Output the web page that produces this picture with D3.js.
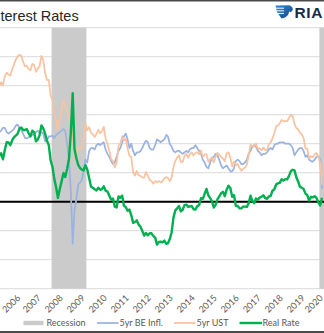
<!DOCTYPE html>
<html>
<head>
<meta charset="utf-8">
<script src="https://cdn.jsdelivr.net/npm/d3@7"></script>
<style>
  html, body { margin: 0; padding: 0; background: #fff; }
  svg { display: block; }
</style>
</head>
<body>
<svg id="chart" width="324" height="333"></svg>
<script>
// monthly averages, first value is June 2005
const firstMonth = [2005, 5];

const ust5 = [
  3.77, 3.98, 4.12, 4.01, 4.33, 4.45, 4.39,
  4.35, 4.57, 4.72, 4.90, 5.00, 5.07, 5.04, 4.82, 4.67, 4.69, 4.58, 4.53,
  4.75, 4.71, 4.48, 4.59, 4.67, 5.03, 4.88, 4.43, 4.20, 4.20, 3.67, 3.49,
  2.98, 2.78, 2.48, 2.84, 3.15, 3.49, 3.30, 3.14, 2.88, 2.73, 2.29, 1.52,
  1.60, 1.87, 1.82, 1.86, 2.13, 2.71, 2.46, 2.57, 2.37, 2.33, 2.23, 2.34,
  2.48, 2.36, 2.43, 2.58, 2.18, 2.00, 1.76, 1.47, 1.41, 1.18, 1.35, 1.93,
  1.99, 2.26, 2.11, 2.17, 1.84, 1.58, 1.54, 1.02, 0.90, 1.06, 0.91, 0.89,
  0.84, 0.83, 1.02, 0.89, 0.76, 0.71, 0.62, 0.71, 0.67, 0.71, 0.67, 0.70,
  0.81, 0.85, 0.82, 0.71, 0.84, 1.20, 1.40, 1.52, 1.60, 1.37, 1.37, 1.58,
  1.65, 1.52, 1.64, 1.70, 1.59, 1.68, 1.70, 1.63, 1.77, 1.55, 1.62, 1.64,
  1.37, 1.47, 1.52, 1.35, 1.54, 1.68, 1.63, 1.54, 1.49, 1.39, 1.67, 1.70,
  1.52, 1.22, 1.38, 1.26, 1.30, 1.17, 1.07, 1.13, 1.18, 1.27, 1.60, 1.96,
  1.92, 1.90, 2.01, 1.82, 1.84, 1.77, 1.87, 1.78, 1.80, 1.98, 2.05, 2.18,
  2.38, 2.60, 2.63, 2.70, 2.82, 2.78, 2.78, 2.77, 2.89, 3.00, 2.95, 2.68,
  2.54, 2.49, 2.37, 2.33, 2.19, 1.83, 1.83, 1.49, 1.57, 1.53, 1.64, 1.68,
  1.56, 1.32, 0.59
];

const be5 = [
  2.30, 2.40, 2.45, 2.55, 2.55, 2.40, 2.35,
  2.40, 2.45, 2.50, 2.62, 2.66, 2.55, 2.48, 2.35, 2.20, 2.18, 2.22, 2.28,
  2.30, 2.32, 2.40, 2.45, 2.38, 2.40, 2.35, 2.08, 2.10, 2.25, 2.25, 2.28,
  2.20, 2.30, 2.35, 2.40, 2.45, 2.50, 2.45, 2.00, 1.40, 0.35, -1.45, -0.30,
  0.10, 0.60, 0.65, 0.75, 1.05, 1.45, 1.35, 1.75, 1.85, 1.85, 1.80, 1.95,
  2.00, 1.95, 2.00, 2.05, 1.80, 1.65, 1.55, 1.40, 1.30, 1.35, 1.55, 1.75,
  1.85, 2.05, 2.25, 2.35, 2.15, 1.85, 2.00, 1.75, 1.60, 1.70, 1.70, 1.75,
  1.85, 2.00, 2.10, 2.05, 1.85, 1.80, 1.80, 1.95, 2.15, 2.10, 2.05, 2.10,
  2.15, 2.30, 2.25, 2.00, 1.90, 1.75, 1.70, 1.75, 1.75, 1.70, 1.65, 1.70,
  1.75, 1.70, 1.80, 1.85, 1.85, 1.95, 1.85, 1.75, 1.65, 1.45, 1.35, 1.20,
  1.15, 1.35, 1.50, 1.55, 1.65, 1.60, 1.45, 1.25, 1.15, 1.20, 1.25, 1.15,
  1.05, 1.05, 1.15, 1.40, 1.45, 1.40, 1.30, 1.30, 1.35, 1.45, 1.65, 1.75,
  1.90, 1.95, 1.90, 1.75, 1.70, 1.60, 1.65, 1.65, 1.70, 1.80, 1.85, 1.80,
  1.95, 2.00, 2.00, 2.05, 2.05, 2.05, 2.00, 2.00, 2.00, 1.95, 1.85, 1.60,
  1.70, 1.80, 1.85, 1.85, 1.75, 1.55, 1.60, 1.45, 1.40, 1.38, 1.45, 1.55,
  1.58, 1.45, 0.45
];

const real5 = [
  1.47, 1.58, 1.67, 1.46, 1.78, 2.05, 2.04,
  1.95, 2.12, 2.22, 2.28, 2.34, 2.52, 2.56, 2.47, 2.47, 2.51, 2.36, 2.25,
  2.45, 2.39, 2.08, 2.14, 2.29, 2.63, 2.53, 2.35, 2.10, 1.95, 1.42, 1.21,
  0.78, 0.48, 0.13, 0.44, 0.70, 0.99, 0.85, 1.14, 1.48, 2.38, 3.74, 1.82,
  1.50, 1.27, 1.17, 1.11, 1.08, 1.26, 1.11, 0.82, 0.52, 0.48, 0.43, 0.39,
  0.48, 0.41, 0.43, 0.53, 0.38, 0.35, 0.21, 0.07, 0.11, -0.17, -0.20, 0.18,
  0.14, 0.21, -0.14, -0.18, -0.31, -0.27, -0.46, -0.73, -0.70, -0.64, -0.79, -0.86,
  -1.01, -1.17, -1.08, -1.16, -1.09, -1.09, -1.18, -1.24, -1.48, -1.39, -1.38, -1.40,
  -1.34, -1.45, -1.43, -1.29, -1.06, -0.55, -0.30, -0.23, -0.15, -0.33, -0.28, -0.12,
  -0.10, -0.18, -0.16, -0.15, -0.26, -0.27, -0.15, -0.12, 0.12, 0.10, 0.27, 0.44,
  0.22, 0.12, 0.02, -0.20, -0.11, 0.08, 0.18, 0.29, 0.34, 0.19, 0.42, 0.55,
  0.47, 0.17, 0.23, -0.14, -0.15, -0.23, -0.23, -0.17, -0.17, -0.18, -0.05, 0.21,
  0.02, -0.05, 0.11, 0.07, 0.14, 0.17, 0.22, 0.13, 0.10, 0.18, 0.20, 0.38,
  0.43, 0.60, 0.63, 0.65, 0.77, 0.73, 0.78, 0.77, 0.89, 1.05, 1.10, 1.08,
  0.84, 0.69, 0.52, 0.48, 0.44, 0.28, 0.23, 0.04, 0.17, 0.15, 0.19, 0.13,
  -0.02, -0.13, 0.14
];

const recessions = [
  ["2007-12-01", "2009-07-01"],
  ["2020-02-01", "2020-05-01"]
];

const yearTicks = [2006, 2007, 2008, 2009, 2010, 2011, 2012, 2013,
                   2014, 2015, 2016, 2017, 2018, 2019, 2020];
const yTicks = [-3, -2, -1, 0, 1, 2, 3, 4, 5, 6];

const seriesNames = ["5yr BE Infl.", "5yr UST", "Real Rate"];
const seriesColors = ["#9AB3E0", "#F7C3A0", "#00B050"];
const seriesWidths = [1.75, 1.75, 2.4];

const WIDTH = 324;
const HEIGHT = 333;
const labelFont = "Lato, 'Liberation Sans', Arial, sans-serif";

const svg = d3.select("#chart");

svg.append("rect")
  .attr("width", WIDTH).attr("height", HEIGHT)
  .attr("fill", "#fff");

const x = d3.scaleTime()
  .domain([new Date(2006, 0, 1), new Date(2020, 0, 1)])
  .range([9.5, 317.5]);

const y = d3.scaleLinear()
  .domain([-3, 6])
  .range([288.7, 27.7]);

const monthDate = (i) => new Date(firstMonth[0], firstMonth[1] + i, 15);

// gridlines
svg.append("g")
  .selectAll("line")
  .data(yTicks)
  .enter()
  .append("line")
  .attr("x1", 0).attr("x2", WIDTH)
  .attr("y1", (d) => y(d)).attr("y2", (d) => y(d))
  .attr("stroke", "#DADADA")
  .attr("stroke-width", 1);

// recession shading
svg.append("g")
  .selectAll("rect")
  .data(recessions)
  .enter()
  .append("rect")
  .attr("x", (d) => x(new Date(d[0])))
  .attr("width", (d) => x(new Date(d[1])) - x(new Date(d[0])))
  .attr("y", y(6))
  .attr("height", y(-3) - y(6))
  .attr("fill", "#CBCBCB");

// zero line
svg.append("line")
  .attr("x1", 0).attr("x2", WIDTH)
  .attr("y1", y(0)).attr("y2", y(0))
  .attr("stroke", "#000")
  .attr("stroke-width", 2);

const line = d3.line()
  .x((d, i) => x(monthDate(i)))
  .y((d) => y(d));

[be5, ust5, real5].forEach((values, k) => {
  svg.append("path")
    .datum(values)
    .attr("d", line)
    .attr("fill", "none")
    .attr("stroke", seriesColors[k])
    .attr("stroke-width", seriesWidths[k])
    .attr("stroke-linejoin", "round");
});

// year labels, rotated; the outer two are nudged so they stay inside
const labelX = (d) => Math.max(11, Math.min(313.5, x(new Date(d, 0, 1))));

svg.append("g")
  .selectAll("text")
  .data(yearTicks)
  .enter()
  .append("text")
  .attr("transform", (d) => `translate(${labelX(d)},303.5) rotate(-45)`)
  .attr("text-anchor", "middle")
  .attr("dominant-baseline", "central")
  .attr("font-family", labelFont)
  .attr("font-size", 9)
  .attr("fill", "#595959")
  .text((d) => d);

// legend
const legend = svg.append("g")
  .attr("font-family", labelFont)
  .attr("font-size", 9)
  .attr("fill", "#595959");

legend.append("rect")
  .attr("x", 23.5).attr("y", 320.8)
  .attr("width", 20).attr("height", 4.4)
  .attr("fill", "#CBCBCB");
legend.append("text")
  .attr("x", 46.5).attr("y", 326.2)
  .text("Recession");

const legendItems = [
  { x1: 97, x2: 118.5, tx: 119.5 },
  { x1: 174, x2: 195.5, tx: 196.5 },
  { x1: 239.5, x2: 262, tx: 262.5 }
];

legendItems.forEach((it, k) => {
  legend.append("line")
    .attr("x1", it.x1).attr("x2", it.x2)
    .attr("y1", 323).attr("y2", 323)
    .attr("stroke", seriesColors[k])
    .attr("stroke-width", seriesWidths[k]);
  legend.append("text")
    .attr("x", it.tx).attr("y", 326.2)
    .text(seriesNames[k]);
});

// title
svg.append("text")
  .attr("x", 0.5).attr("y", 21)
  .attr("font-family", "'Liberation Sans', Arial, sans-serif")
  .attr("font-size", 14.5)
  .attr("fill", "#262626")
  .text("terest Rates");

// logo mark
const defs = svg.append("defs");
const grad = defs.append("linearGradient")
  .attr("id", "logoGrad")
  .attr("x1", 0).attr("y1", 0).attr("x2", 1).attr("y2", 1);
grad.append("stop").attr("offset", "0%").attr("stop-color", "#2E8BDB");
grad.append("stop").attr("offset", "100%").attr("stop-color", "#13457F");

svg.append("path")
  .attr("d", "M275.5,5.5 L289.5,5.2 Q293.2,6.8 292.8,10 L290.8,12.2 L289.2,11.6 L288.4,14.2 Q286.5,17.6 281.5,18.6 L279.2,15.2 L276.8,11.8 Z")
  .attr("fill", "url(#logoGrad)");

svg.append("g")
  .selectAll("line")
  .data([8.2, 10.8, 13.4])
  .enter()
  .append("line")
  .attr("x1", 275).attr("x2", 284)
  .attr("y1", (d) => d).attr("y2", (d) => d)
  .attr("stroke", "#fff")
  .attr("stroke-width", 1);

svg.append("text")
  .attr("x", 294.5).attr("y", 18.3)
  .attr("font-family", "'Liberation Sans', Arial, sans-serif")
  .attr("font-weight", "bold")
  .attr("font-size", 15.5)
  .attr("letter-spacing", 0.6)
  .attr("fill", "#1B2A4A")
  .text("RIA");

// frame edges
svg.append("rect")
  .attr("x", 0).attr("y", 0)
  .attr("width", WIDTH).attr("height", 1.5)
  .attr("fill", "#4A4A4A");
svg.append("rect")
  .attr("x", 0).attr("y", HEIGHT - 2)
  .attr("width", WIDTH).attr("height", 2)
  .attr("fill", "#4A4A4A");
</script>
</body>
</html>
